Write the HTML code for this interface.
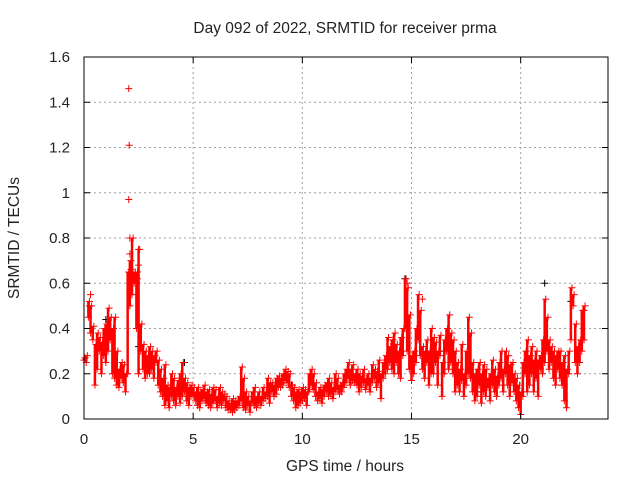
<!DOCTYPE html>
<html><head><meta charset="utf-8"><style>
html,body{margin:0;padding:0;background:#fff;}
svg{display:block;font-family:"Liberation Sans",sans-serif;}
</style></head><body>
<svg id="chart" width="640" height="480" viewBox="0 0 640 480">
<text x="345" y="33" font-size="15.5" text-anchor="middle" fill="#222">Day 092 of 2022, SRMTID for receiver prma</text>
<text x="345" y="471" font-size="15.5" text-anchor="middle" fill="#222">GPS time / hours</text>
<text transform="translate(19,238) rotate(-90)" font-size="15.5" text-anchor="middle" fill="#222">SRMTID / TECUs</text>
<g id="grid"></g>
<g id="marks"></g>
<g id="axes"></g>
</svg>
<script>
const xTicks=[0,5,10,15,20];
const yTicks=[0,0.2,0.4,0.6,0.8,1,1.2,1.4,1.6];
const yTickLabels=["0","0.2","0.4","0.6","0.8","1","1.2","1.4","1.6"];
const binStart=0, binStep=0.1;
const lowVals=[26,25,45,38,35,15,22,30,20,28, 25,30,35,20,18,15,14,18,16,12, 20,50,55,60,40,20,30,22,18,20, 20,22,18,25,15,12,10,6,8,5, 10,8,6,10,7,10,12,8,6,10, 10,8,6,5,8,9,7,6,5,7, 8,5,7,6,8,5,4,4,3,4, 5,6,8,5,4,6,3,7,6,5, 7,6,8,9,10,7,12,10,11,14, 14,15,17,16,14,10,8,5,6,7, 8,9,6,12,15,13,10,8,9,7, 10,12,10,11,9,12,13,11,12,14, 16,18,15,17,16,15,12,14,16,13, 15,12,16,18,14,16,9,18,20,22, 25,22,20,25,20,18,28,40,30,22, 17,20,25,35,28,22,18,25,15,20, 20,25,15,28,10,20,30,22,25,20, 12,15,12,17,10,15,20,18,12,8, 10,15,7,12,10,14,8,15,12,10, 15,18,12,20,15,10,16,12,8,5, 2,10,20,12,15,20,12,18,10,22, 20,25,30,22,25,18,15,22,18,15, 8,5,20,35,50,25,20,25,30,35];
const highVals=[27,28,52,50,41,33,38,36,34,40, 42,49,45,40,45,30,22,25,24,20, 65,70,80,65,65,75,42,33,30,28, 32,30,28,30,26,22,18,24,15,14, 20,18,14,17,20,25,18,16,14,15, 14,12,14,12,13,15,12,13,11,14, 13,10,14,12,11,10,8,7,9,8, 8,10,23,18,12,10,8,12,14,10, 12,10,14,12,18,16,16,15,18,19, 18,20,22,21,20,15,14,12,13,12, 14,13,12,20,22,20,16,12,14,13, 15,16,18,16,14,20,18,15,16,20, 22,25,22,24,20,22,20,19,22,18, 20,18,24,22,21,26,20,25,28,36, 32,35,38,33,30,36,40,62,58,46, 28,30,40,55,48,32,30,35,30,40, 36,34,30,37,25,35,40,46,38,35, 30,25,22,33,20,30,45,38,25,20, 22,25,20,24,22,18,20,26,22,19, 25,30,22,30,28,24,25,20,18,15, 12,25,30,35,28,32,26,30,26,28, 35,53,45,35,32,30,28,30,30,25, 28,22,30,58,55,42,32,35,48,50];
const extraT=[2.05,2.07,2.05,2.1,2.1,2.15,2.2,2.1,2.5,2.5,2.45,0.3,0.25,14.8,15.5,22.9];
const extraV=[1.46,1.21,0.97,0.8,0.73,0.66,0.6,0.55,0.75,0.68,0.62,0.55,0.5,0.6,0.53,0.48];
const blackT=[1.0,2.5,4.6,14.7,18.0,21.1,22.3,13.2,16.5,9.5];
const blackV=[0.44,0.32,0.25,0.62,0.12,0.60,0.52,0.2,0.3,0.15];

const L=84,R=608,T=57,B=419;
const xMin=0,xMax=24,yMin=0,yMax=1.6;
const sx=v=>L+(v-xMin)/(xMax-xMin)*(R-L);
const sy=v=>B-(v-yMin)/(yMax-yMin)*(B-T);
const NS="http://www.w3.org/2000/svg";
function mk(tag,attrs,parent){const e=document.createElementNS(NS,tag);for(const k in attrs)e.setAttribute(k,attrs[k]);parent.appendChild(e);return e;}
const grid=document.getElementById('grid'),marks=document.getElementById('marks'),axes=document.getElementById('axes');

xTicks.forEach(t=>{
  if(t>xMin){const g=mk('line',{x1:sx(t),x2:sx(t),y1:T,y2:B,stroke:'#a0a0a0','stroke-width':1,'stroke-dasharray':'2,3'},grid);
  
  }
  const lab=mk('text',{x:sx(t),y:B+25,'font-size':15,'text-anchor':'middle',fill:'#222'},axes);lab.textContent=t;
  
  
  mk('line',{x1:sx(t),x2:sx(t),y1:B,y2:B-6,stroke:'#000'},axes);
  mk('line',{x1:sx(t),x2:sx(t),y1:T,y2:T+6,stroke:'#000'},axes);
});
yTicks.forEach((t,i)=>{
  if(t>yMin&&t<yMax){const g=mk('line',{x1:L,x2:R,y1:sy(t),y2:sy(t),stroke:'#a0a0a0','stroke-width':1,'stroke-dasharray':'2,3'},grid);
  
  }
  const lab=mk('text',{x:L-14,y:sy(t)+5,'font-size':15,'text-anchor':'end',fill:'#222'},axes);lab.textContent=yTickLabels[i];
  
  
  mk('line',{x1:L,x2:L+6,y1:sy(t),y2:sy(t),stroke:'#000'},axes);
  mk('line',{x1:R,x2:R-6,y1:sy(t),y2:sy(t),stroke:'#000'},axes);
});
const frame=mk('rect',{x:L,y:T,width:R-L,height:B-T,fill:'none',stroke:'#000','stroke-width':1},axes);



function plus(x,y,color){
  const p=mk('path',{d:`M${x-3.5},${y}h7M${x},${y-3.5}v7`,stroke:color,'stroke-width':1,fill:'none'},marks);
  
  
}
blackT.forEach((t,i)=>plus(sx(t),sy(blackV[i]),'#000'));
lowVals.forEach((lv,i)=>{
  const t=binStart+i*binStep, a=lv/100, b=highVals[i]/100;
  const r=mk('line',{x1:sx(t),x2:sx(t),y1:sy(a),y2:sy(b),stroke:'#f00','stroke-width':2.5},marks);
  
  
  plus(sx(t),sy(a),'#f00');
  plus(sx(t+0.05),sy(b),'#f00');
});
extraT.forEach((t,i)=>plus(sx(t),sy(extraV[i]),'#f00'));
</script>
</body></html>
